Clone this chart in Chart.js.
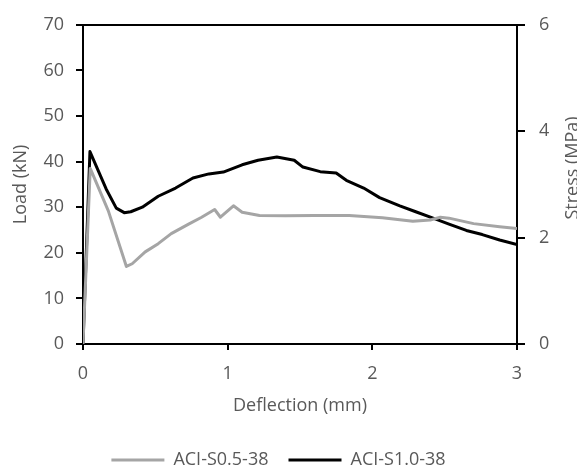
<!DOCTYPE html>
<html>
<head>
<meta charset="utf-8">
<script src="https://cdn.jsdelivr.net/npm/chart.js@4/dist/chart.umd.min.js"></script>
<style>
  html, body { margin: 0; padding: 0; background: #fff; }
  #wrap { width: 577px; height: 470px; }
</style>
</head>
<body>
<div id="wrap"><canvas id="chart" width="577" height="470"></canvas></div>
<script>
// Deflection (mm) / Load (kN)
const deflS05 = [0, 0.05, 0.175, 0.30, 0.34, 0.43, 0.52, 0.61, 0.73, 0.82, 0.91, 0.95, 1.04, 1.10, 1.22, 1.40, 1.60, 1.84, 2.07, 2.28, 2.40, 2.47, 2.53, 2.70, 2.88, 3.0];
const loadS05 = [0, 38.5, 29.2, 17.0, 17.6, 20.2, 22.0, 24.2, 26.3, 27.8, 29.5, 27.8, 30.3, 28.9, 28.2, 28.1, 28.2, 28.2, 27.7, 26.9, 27.2, 27.8, 27.6, 26.4, 25.7, 25.3];

const deflS10 = [0, 0.048, 0.16, 0.23, 0.285, 0.33, 0.41, 0.52, 0.64, 0.76, 0.87, 0.97, 1.10, 1.21, 1.34, 1.46, 1.52, 1.64, 1.75, 1.82, 1.94, 2.05, 2.19, 2.30, 2.42, 2.53, 2.65, 2.76, 2.88, 3.0];
const loadS10 = [0, 42.2, 34.0, 29.8, 28.8, 29.0, 30.0, 32.4, 34.2, 36.4, 37.3, 37.7, 39.3, 40.3, 41.0, 40.3, 38.8, 37.8, 37.5, 35.9, 34.2, 32.1, 30.3, 29.0, 27.6, 26.3, 24.9, 24.0, 22.8, 21.8];

const seriesNames = ['ACI-S0.5-38', 'ACI-S1.0-38'];
const xTitle = 'Deflection (mm)';
const yTitle = 'Load (kN)';
const y2Title = 'Stress (MPa)';

const txt = '#595959';
const fontFam = '"Open Sans", "Liberation Sans", sans-serif';
const fs = 18;

function pts(xs, ys) { return xs.map((x, i) => ({ x: x, y: ys[i] })); }

// right axis title reads bottom-to-top and is cut by the edge
const rightTitle = {
    id: 'rightTitle',
    afterDraw(chart) {
        const ctx = chart.ctx;
        ctx.save();
        ctx.translate(578, 168);
        ctx.rotate(-Math.PI / 2);
        ctx.fillStyle = txt;
        ctx.font = fs + 'px ' + fontFam;
        ctx.textAlign = 'center';
        ctx.textBaseline = 'alphabetic';
        ctx.fillText(y2Title, 0, 0);
        ctx.restore();
    }
};

new Chart(document.getElementById('chart').getContext('2d'), {
    type: 'scatter',
    data: {
        datasets: [
            { label: seriesNames[0], data: pts(deflS05, loadS05), showLine: true, borderColor: '#a5a5a5', backgroundColor: '#a5a5a5', borderWidth: 3, pointRadius: 0, borderJoinStyle: 'round', yAxisID: 'y' },
            { label: seriesNames[1], data: pts(deflS10, loadS10), showLine: true, borderColor: '#000000', backgroundColor: '#000000', borderWidth: 3, pointRadius: 0, borderJoinStyle: 'round', yAxisID: 'y' }
        ]
    },
    options: {
        responsive: false,
        animation: false,
        layout: { padding: { top: 20, bottom: -9, left: 0, right: 20 } },
        plugins: {
            tooltip: { enabled: false },
            legend: {
                position: 'bottom',
                labels: {
                    usePointStyle: true, pointStyle: 'line', pointStyleWidth: 53,
                    color: txt, font: { family: fontFam, size: fs }, padding: 20
                }
            }
        },
        scales: {
            x: {
                type: 'linear', min: 0, max: 3,
                ticks: { stepSize: 1, color: txt, font: { family: fontFam, size: fs }, padding: 13 },
                grid: { drawOnChartArea: false, color: '#000', tickLength: 6, lineWidth: 2 },
                border: { color: '#000', width: 2 },
                title: { display: true, text: xTitle, color: txt, font: { family: fontFam, size: fs }, padding: { top: 6, bottom: 14 } },
                afterFit(s) { s.height = 87; }
            },
            x2: {
                type: 'linear', position: 'top', min: 0, max: 3,
                ticks: { display: false },
                grid: { display: false },
                border: { color: '#000', width: 2 },
                afterFit(s) { s.height = 0; }
            },
            y: {
                min: 0, max: 70,
                ticks: { stepSize: 10, color: txt, font: { family: fontFam, size: fs }, padding: 12 },
                grid: { drawOnChartArea: false, color: '#000', tickLength: 7, lineWidth: 2 },
                border: { color: '#000', width: 2 },
                title: { display: true, text: yTitle, color: txt, font: { family: fontFam, size: fs }, padding: { top: 10, bottom: 0 } },
                afterFit(s) { s.width = 83; }
            },
            y2: {
                position: 'right', min: 0, max: 6,
                ticks: { stepSize: 2, color: txt, font: { family: fontFam, size: fs }, padding: 14 },
                grid: { drawOnChartArea: false, color: '#000', tickLength: 8, lineWidth: 2 },
                border: { color: '#000', width: 2 },
                afterFit(s) { s.width = 40; }
            }
        }
    },
    plugins: [rightTitle]
});
</script>
</body>
</html>
